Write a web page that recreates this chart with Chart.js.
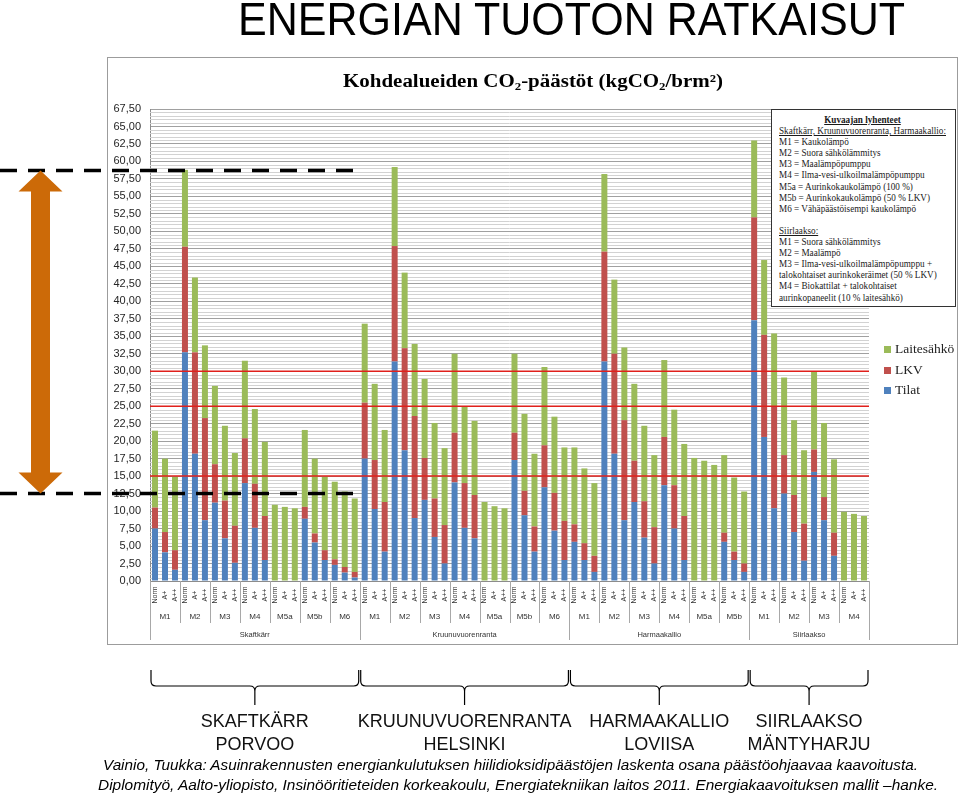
<!DOCTYPE html>
<html>
<head>
<meta charset="utf-8">
<title>Energian tuoton ratkaisut</title>
<script src="https://cdn.jsdelivr.net/npm/chart.js@4.4.1/dist/chart.umd.min.js"></script>
<style>
    html, body { margin: 0; padding: 0; background: #fff; }
    #page { position: relative; width: 960px; height: 794px; overflow: hidden; }
    #frame { position: absolute; left: 107px; top: 57px; width: 851px; height: 588px;
             border: 1px solid #9c9c9c; box-sizing: border-box; }
    #chart { position: absolute; left: 0; top: 0; }
    .fit { position: absolute; white-space: nowrap; transform-origin: 0 0; }
    #mainTitle { top: -5px; left: 238px; font-family: "Liberation Sans", Arial, sans-serif;
                 font-size: 47px; line-height: 47px; color: #000; }
    #chartTitle { top: 72px; left: 343px; font-family: "Liberation Serif", "Times New Roman", serif;
                  font-weight: bold; font-size: 18px; line-height: 18px; color: #000; }
    #chartTitle sub { font-size: 11px; vertical-align: -3px; line-height: 0; }
    .cite { font-family: "Liberation Sans", Arial, sans-serif; font-style: italic;
            font-size: 14px; line-height: 16px; color: #000; }
    #cite1 { top: 757px; left: 103px; }
    #cite2 { top: 777px; left: 98px; }
    #notes { position: absolute; left: 771px; top: 109px; width: 185px; height: 198px;
             box-sizing: border-box; border: 1px solid #333; background: #fff; }
    #notesText { left: 7px; top: 4px; font-family: "Liberation Serif", "Times New Roman", serif;
                 font-size: 10.5px; line-height: 11.1px; color: #1a1a1a; }
    #notesText .head { text-align: center; font-weight: bold; text-decoration: underline; }
    #notesText .u { text-decoration: underline; }
    #legend { position: absolute; left: 884px; top: 341px;
              font-family: "Liberation Serif", "Times New Roman", serif; font-size: 13.5px; color: #222; }
    #legend div { position: relative; height: 20.5px; line-height: 16px; padding-left: 11px; }
    #legend span { position: absolute; left: 0; top: 5px; width: 7px; height: 7px; }
</style>
</head>
<body>
<div id="page">
    <div id="frame"></div>
    <canvas id="chart" width="960" height="794"></canvas>
    <div id="mainTitle" class="fit" data-w="667">ENERGIAN TUOTON RATKAISUT</div>
    <div id="chartTitle" class="fit" data-w="380">Kohdealueiden CO<sub>2</sub>-päästöt (kgCO<sub>2</sub>/brm²)</div>
    <div id="notes">
        <div id="notesText" class="fit" data-w="167">
            <div class="head">Kuvaajan lyhenteet</div>
            <div class="u">Skaftkärr, Kruunuvuorenranta, Harmaakallio:</div>
            <div>M1 = Kaukolämpö</div>
            <div>M2 = Suora sähkölämmitys</div>
            <div>M3 = Maalämpöpumppu</div>
            <div>M4 = Ilma-vesi-ulkoilmalämpöpumppu</div>
            <div>M5a = Aurinkokaukolämpö (100 %)</div>
            <div>M5b = Aurinkokaukolämpö (50 % LKV)</div>
            <div>M6 = Vähäpäästöisempi kaukolämpö</div>
            <div>&nbsp;</div>
            <div class="u">Siirlaakso:</div>
            <div>M1 = Suora sähkölämmitys</div>
            <div>M2 = Maalämpö</div>
            <div>M3 = Ilma-vesi-ulkoilmalämpöpumppu +</div>
            <div>talokohtaiset aurinkokeräimet (50 % LKV)</div>
            <div>M4 = Biokattilat + talokohtaiset</div>
            <div>aurinkopaneelit (10 % laitesähkö)</div>
        </div>
    </div>
    <div id="legend"></div>
    <div id="cite1" class="fit cite" data-w="815">Vainio, Tuukka: Asuinrakennusten energiankulutuksen hiilidioksidipäästöjen laskenta osana päästöohjaavaa kaavoitusta.</div>
    <div id="cite2" class="fit cite" data-w="840">Diplomityö, Aalto-yliopisto, Insinööritieteiden korkeakoulu, Energiatekniikan laitos 2011. Energiakaavoituksen mallit –hanke.</div>
</div>
<script>
// Areas, their method groups and the three building levels of each group.
var areaNames = ['Skaftkärr', 'Kruunuvuorenranta', 'Harmaakallio', 'Siirlaakso'];
var areaPlaces = [['SKAFTKÄRR', 'PORVOO'], ['KRUUNUVUORENRANTA', 'HELSINKI'],
                  ['HARMAAKALLIO', 'LOVIISA'], ['SIIRLAAKSO', 'MÄNTYHARJU']];
var areaGroups = [
    ['M1', 'M2', 'M3', 'M4', 'M5a', 'M5b', 'M6'],
    ['M1', 'M2', 'M3', 'M4', 'M5a', 'M5b', 'M6'],
    ['M1', 'M2', 'M3', 'M4', 'M5a', 'M5b'],
    ['M1', 'M2', 'M3', 'M4']
];
var levels = ['Norm', 'A+', 'A++'];

var seriesNames = ['Tilat', 'LKV', 'Laitesähkö'];

// kgCO2/brm2 per bar, one value per area/group/level
var tilat = [
    7.5, 4.1, 1.6, 32.7, 18.2, 8.7, 11.2, 6.1, 2.6, 14.0, 7.6, 3.0, 0, 0, 0, 8.9, 5.5, 3.0, 2.3, 1.2, 0.5,
    17.5, 10.3, 4.2, 31.4, 18.7, 9.0, 11.6, 6.3, 2.5, 14.1, 7.6, 6.1, 0, 0, 0, 17.3, 9.4, 4.2, 13.4, 7.2, 3.0,
    5.6, 3.0, 1.3, 31.4, 18.2, 8.7, 11.3, 6.2, 2.5, 13.7, 7.5, 3.0, 0, 0, 0, 5.6, 3.0, 1.3,
    37.3, 20.6, 10.4, 12.5, 7.0, 2.9, 15.6, 8.7, 3.6, 0, 0, 0
];
var lkv = [
    3.0, 2.9, 2.8, 15.1, 14.5, 14.6, 5.5, 5.4, 5.3, 6.4, 6.3, 6.3, 0, 0, 0, 1.7, 1.3, 1.4, 0.8, 0.8, 0.8,
    8.0, 7.0, 7.1, 16.5, 14.6, 14.6, 6.0, 5.5, 5.5, 7.1, 6.4, 6.2, 0, 0, 0, 3.9, 3.5, 3.6, 6.0, 5.4, 5.6,
    2.5, 2.4, 2.3, 15.7, 14.3, 14.3, 5.9, 5.2, 5.2, 6.9, 6.2, 6.3, 0, 0, 0, 1.3, 1.2, 1.2,
    14.7, 14.6, 14.5, 5.5, 5.3, 5.3, 3.2, 3.3, 3.3, 0, 0, 0
];
var laitesahko = [
    11.0, 10.5, 10.5, 11.0, 10.7, 10.4, 11.2, 10.7, 10.4, 11.1, 10.7, 10.6, 10.9, 10.6, 10.4, 11.0, 10.7, 10.5, 11.1, 10.8, 10.5,
    11.3, 10.9, 10.3, 11.3, 10.8, 10.3, 11.3, 10.8, 11.0, 11.3, 10.9, 10.6, 11.3, 10.7, 10.4, 11.3, 11.0, 10.4, 11.2, 10.9, 10.5,
    11.0, 10.7, 10.4, 11.1, 10.6, 10.4, 11.0, 10.8, 10.3, 11.0, 10.8, 10.3, 17.6, 17.2, 16.6, 11.1, 10.6, 10.3,
    11.0, 10.7, 10.5, 11.1, 10.7, 10.5, 11.1, 10.6, 10.5, 9.9, 9.6, 9.3
];

var yMax = 67.5;
var majorStep = 2.5;
var minorStep = 0.5;
var targetLines = [15, 25, 30];
var rangeMarks = [12.5, 58.7];

var colors = ['#4f81bd', '#c0504d', '#9bbb59'];

// one category per bar
var labels = [];
areaGroups.forEach(function(groups, a) {
    groups.forEach(function(g) {
        levels.forEach(function(l) {
            labels.push(areaNames[a] + ' ' + g + ' ' + l);
        });
    });
});

function fmt(v) {
    return v.toFixed(2).replace('.', ',');
}

function fitText() {
    document.querySelectorAll('.fit').forEach(function(el) {
        var w = el.getBoundingClientRect().width;
        el.style.transform = 'scaleX(' + (parseFloat(el.dataset.w) / w) + ')';
    });
}

function buildLegend() {
    var box = document.getElementById('legend');
    for (var i = seriesNames.length - 1; i >= 0; i--) {
        var row = document.createElement('div');
        row.innerHTML = '<span style="background:' + colors[i] + '"></span>' + seriesNames[i];
        box.appendChild(row);
    }
}

// bar edge helpers
function barPitch(x) {
    return x.getPixelForValue(1) - x.getPixelForValue(0);
}
function leftEdge(x, i) {
    return x.getPixelForValue(i) - barPitch(x) / 2;
}

var minorGrid = {
    id: 'minorGrid',
    beforeDatasetsDraw: function(chart) {
        var ctx = chart.ctx, y = chart.scales.y, a = chart.chartArea;
        ctx.save();
        ctx.strokeStyle = '#d2d2d2';
        ctx.lineWidth = 1;
        for (var v = minorStep; v < yMax; v += minorStep) {
            if (Math.abs(v / majorStep - Math.round(v / majorStep)) < 1e-6) {
                continue;
            }
            var py = Math.round(y.getPixelForValue(v)) + 0.5;
            ctx.beginPath();
            ctx.moveTo(a.left, py);
            ctx.lineTo(a.right, py);
            ctx.stroke();
        }
        ctx.restore();
    }
};

var targetLinesPlugin = {
    id: 'targetLines',
    afterDatasetsDraw: function(chart) {
        var ctx = chart.ctx, y = chart.scales.y, a = chart.chartArea;
        ctx.save();
        ctx.strokeStyle = '#e0201c';
        ctx.lineWidth = 1.5;
        targetLines.forEach(function(v) {
            var py = y.getPixelForValue(v);
            ctx.beginPath();
            ctx.moveTo(a.left, py);
            ctx.lineTo(a.right, py);
            ctx.stroke();
        });
        ctx.restore();
    }
};

// multi level category axis, braces, range marks
var decorations = {
    id: 'decorations',
    afterDraw: function(chart) {
        var ctx = chart.ctx, x = chart.scales.x, y = chart.scales.y, a = chart.chartArea;
        var pitch = barPitch(x);
        var bottom = a.bottom;
        ctx.save();

        // level labels, rotated
        ctx.fillStyle = '#333';
        ctx.font = '7px "Liberation Sans", Arial, sans-serif';
        ctx.textAlign = 'center';
        ctx.textBaseline = 'middle';
        for (var i = 0; i < labels.length; i++) {
            ctx.save();
            ctx.translate(x.getPixelForValue(i), bottom + 14);
            ctx.rotate(-Math.PI / 2);
            ctx.fillText(levels[i % levels.length], 0, 0);
            ctx.restore();
        }

        // group and area labels with separators
        ctx.strokeStyle = '#a8a8a8';
        ctx.lineWidth = 1;
        var idx = 0;
        areaGroups.forEach(function(groups, ai) {
            var areaStart = idx;
            groups.forEach(function(g) {
                var gx0 = leftEdge(x, idx);
                var gx1 = gx0 + pitch * levels.length;
                ctx.font = '8px "Liberation Sans", Arial, sans-serif';
                ctx.fillText(g, (gx0 + gx1) / 2, bottom + 36);
                if (idx !== areaStart) {
                    ctx.beginPath();
                    ctx.moveTo(Math.round(gx0) + 0.5, bottom);
                    ctx.lineTo(Math.round(gx0) + 0.5, bottom + 42);
                    ctx.stroke();
                }
                idx += levels.length;
            });
            var ax0 = leftEdge(x, areaStart);
            var ax1 = leftEdge(x, idx);
            ctx.font = '7.5px "Liberation Sans", Arial, sans-serif';
            ctx.fillText(areaNames[ai], (ax0 + ax1) / 2, bottom + 54);
            [ax0, ax1].forEach(function(px) {
                ctx.beginPath();
                ctx.moveTo(Math.round(px) + 0.5, bottom);
                ctx.lineTo(Math.round(px) + 0.5, bottom + 59);
                ctx.stroke();
            });

            // brace under the area
            var top = 670, mid = 686, tip = 705, r = 5;
            var cx = (ax0 + ax1) / 2;
            ctx.strokeStyle = '#000';
            ctx.lineWidth = 1.2;
            ctx.beginPath();
            ctx.moveTo(ax0 + 1, top);
            ctx.lineTo(ax0 + 1, mid - r);
            ctx.quadraticCurveTo(ax0 + 1, mid, ax0 + 1 + r, mid);
            ctx.lineTo(cx - r, mid);
            ctx.quadraticCurveTo(cx, mid, cx, mid + r);
            ctx.lineTo(cx, tip);
            ctx.moveTo(cx, mid + r);
            ctx.quadraticCurveTo(cx, mid, cx + r, mid);
            ctx.lineTo(ax1 - 1 - r, mid);
            ctx.quadraticCurveTo(ax1 - 1, mid, ax1 - 1, mid - r);
            ctx.lineTo(ax1 - 1, top);
            ctx.stroke();
            ctx.strokeStyle = '#a8a8a8';
            ctx.lineWidth = 1;

            // place names
            ctx.fillStyle = '#111';
            ctx.font = '18px "Liberation Sans", Arial, sans-serif';
            ctx.fillText(areaPlaces[ai][0], cx, 722);
            ctx.fillText(areaPlaces[ai][1], cx, 745);
            ctx.fillStyle = '#333';
        });

        // dashed range marks and the double arrow
        var yTop = y.getPixelForValue(rangeMarks[1]);
        var yBot = y.getPixelForValue(rangeMarks[0]);
        ctx.strokeStyle = '#000';
        ctx.lineWidth = 3.5;
        ctx.setLineDash([17, 11]);
        [yTop, yBot].forEach(function(py) {
            ctx.beginPath();
            ctx.moveTo(0, py);
            ctx.lineTo(362, py);
            ctx.stroke();
        });
        ctx.setLineDash([]);

        var ax = 40.5, hw = 22, hh = 21, sw = 9.5;
        ctx.fillStyle = '#cc6a08';
        ctx.beginPath();
        ctx.moveTo(ax, yTop);
        ctx.lineTo(ax + hw, yTop + hh);
        ctx.lineTo(ax + sw, yTop + hh);
        ctx.lineTo(ax + sw, yBot - hh);
        ctx.lineTo(ax + hw, yBot - hh);
        ctx.lineTo(ax, yBot);
        ctx.lineTo(ax - hw, yBot - hh);
        ctx.lineTo(ax - sw, yBot - hh);
        ctx.lineTo(ax - sw, yTop + hh);
        ctx.lineTo(ax - hw, yTop + hh);
        ctx.closePath();
        ctx.fill();

        ctx.restore();
    }
};

Chart.defaults.font.family = '"Liberation Sans", Arial, sans-serif';

new Chart(document.getElementById('chart').getContext('2d'), {
    type: 'bar',
    data: {
        labels: labels,
        datasets: [
            { label: seriesNames[0], data: tilat, backgroundColor: colors[0] },
            { label: seriesNames[1], data: lkv, backgroundColor: colors[1] },
            { label: seriesNames[2], data: laitesahko, backgroundColor: colors[2] }
        ]
    },
    options: {
        responsive: false,
        animation: false,
        barPercentage: 0.6,
        categoryPercentage: 1.0,
        layout: {
            padding: { left: 100, top: 109, right: 91, bottom: 149 }
        },
        plugins: {
            legend: { display: false },
            tooltip: { enabled: false }
        },
        scales: {
            x: {
                stacked: true,
                grid: { display: false },
                border: { display: true, color: '#8c8c8c' },
                ticks: { display: false },
                afterFit: function(s) { s.height = 64; }
            },
            y: {
                stacked: true,
                min: 0,
                max: yMax,
                grid: { color: '#a0a0a0', drawTicks: false },
                border: { display: true, color: '#8c8c8c' },
                ticks: {
                    stepSize: majorStep,
                    maxTicksLimit: 40,
                    padding: 9,
                    color: '#262626',
                    font: { size: 11 },
                    callback: function(v) { return fmt(v); }
                },
                afterFit: function(s) { s.width = 50; }
            }
        }
    },
    plugins: [minorGrid, targetLinesPlugin, decorations]
});

buildLegend();
fitText();
</script>
</body>
</html>
